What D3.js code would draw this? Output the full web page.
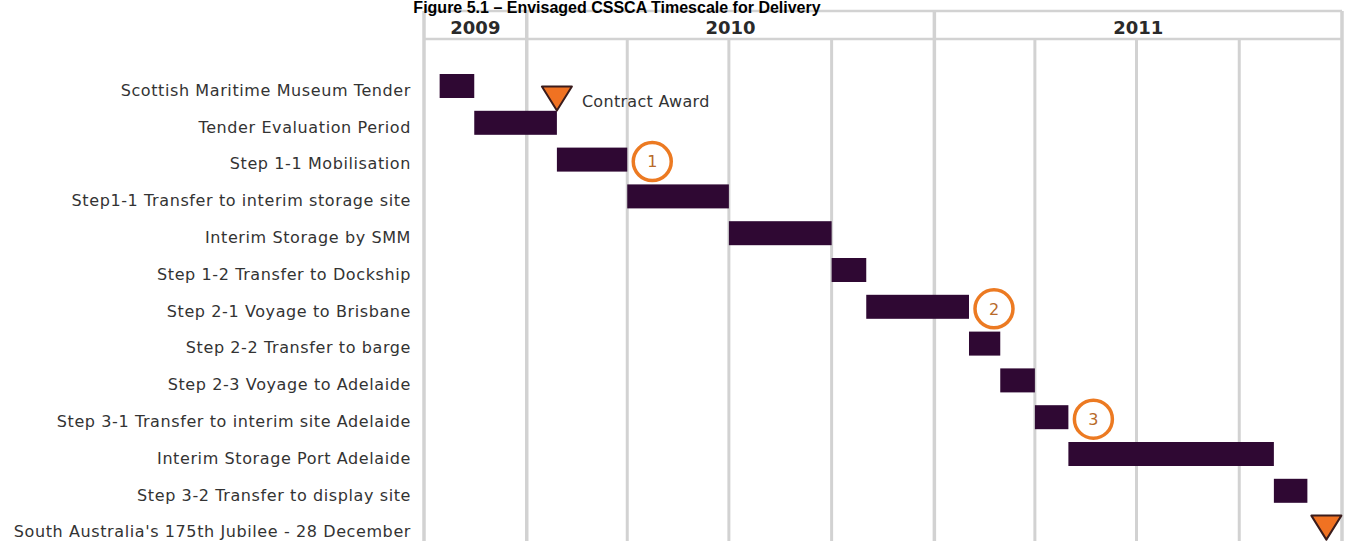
<!DOCTYPE html>
<html>
<head>
<meta charset="utf-8">
<script src="https://cdn.jsdelivr.net/npm/d3@7"></script>
<style>
  body { margin: 0; background: #fff; }
  svg { display: block; }
</style>
</head>
<body>
<div id="chart"></div>
<script>
var tasks = [
    "Scottish Maritime Museum Tender",
    "Tender Evaluation Period",
    "Step 1-1 Mobilisation",
    "Step1-1 Transfer to interim storage site",
    "Interim Storage by SMM",
    "Step 1-2 Transfer to Dockship",
    "Step 2-1 Voyage to Brisbane",
    "Step 2-2 Transfer to barge",
    "Step 2-3 Voyage to Adelaide",
    "Step 3-1 Transfer to interim site Adelaide",
    "Interim Storage Port Adelaide",
    "Step 3-2 Transfer to display site",
    "South Australia's 175th Jubilee - 28 December"
];
var starts = ["2009-10-15", "2009-11-15", "2010-01-28", "2010-04-01", "2010-07-01", "2010-10-01",
              "2010-11-01", "2011-02-01", "2011-03-01", "2011-04-01", "2011-05-01", "2011-11-01", null];
var ends   = ["2009-11-15", "2010-01-28", "2010-04-01", "2010-07-01", "2010-10-01", "2010-11-01",
              "2011-02-01", "2011-03-01", "2011-04-01", "2011-05-01", "2011-11-01", "2011-12-01", null];

// milestones (triangles)
var milestoneDates = ["2010-01-28", "2011-12-18"];
var milestoneRows = [0.34, 12];
var milestoneLabels = ["Contract Award", ""];

// numbered step circles, placed after the bar of that row
var stepRows = [2, 6, 9];
var stepLabels = ["1", "2", "3"];

var years = ["2009", "2010", "2011"];
var yearStarts = ["2009-10-01", "2010-01-01", "2011-01-01"];
var yearEnds = ["2010-01-01", "2011-01-01", "2012-01-01"];

var title = "Figure 5.1 \u2013 Envisaged CSSCA Timescale for Delivery";

function init() {
    var w = 1349;
    var h = 541;
    var parse = d3.timeParse("%Y-%m-%d");

    var svg = d3.select("#chart")
        .append("svg")
        .attr("width", w)
        .attr("height", h);

    var x = d3.scaleTime()
        .domain([parse("2009-10-01"), parse("2012-01-01")])
        .range([424, 1342]);

    var y = d3.scaleLinear()
        .domain([0, tasks.length - 1])
        .range([86, 527.6]);

    var gridColor = "#d2d2d2";
    var headTop = 11, headBottom = 39;

    // quarter lines, only below header
    var quarters = d3.timeMonth.every(3).range(parse("2010-01-01"), parse("2012-01-01"))
        .filter(function(d) { return d.getMonth() != 0; });
    svg.selectAll("line.q")
        .data(quarters)
        .enter()
        .append("line")
        .attr("class", "q")
        .attr("x1", function(d) { return x(d); })
        .attr("x2", function(d) { return x(d); })
        .attr("y1", headBottom)
        .attr("y2", h)
        .attr("stroke", gridColor)
        .attr("stroke-width", 3);

    // year boundaries go through the header
    var yearLines = [parse(yearStarts[0])].concat(yearEnds.map(parse));
    svg.selectAll("line.y")
        .data(yearLines)
        .enter()
        .append("line")
        .attr("class", "y")
        .attr("x1", function(d) { return x(d); })
        .attr("x2", function(d) { return x(d); })
        .attr("y1", headTop)
        .attr("y2", h)
        .attr("stroke", gridColor)
        .attr("stroke-width", 3.5);

    [headTop, headBottom].forEach(function(yy) {
        svg.append("line")
            .attr("x1", x.range()[0])
            .attr("x2", x.range()[1])
            .attr("y1", yy)
            .attr("y2", yy)
            .attr("stroke", gridColor)
            .attr("stroke-width", 2.5);
    });

    // title
    svg.append("text")
        .attr("x", 617)
        .attr("y", 13)
        .attr("text-anchor", "middle")
        .attr("font-family", "Liberation Sans, Arial, sans-serif")
        .attr("font-weight", "bold")
        .attr("font-size", 16)
        .attr("fill", "#000")
        .text(title);

    svg.selectAll("text.year")
        .data(years)
        .enter()
        .append("text")
        .attr("class", "year")
        .attr("x", function(d, i) { return (x(parse(yearStarts[i])) + x(parse(yearEnds[i]))) / 2; })
        .attr("y", 34)
        .attr("text-anchor", "middle")
        .attr("font-family", "DejaVu Sans, sans-serif")
        .attr("font-weight", "bold")
        .attr("font-size", 18)
        .attr("fill", "#2a2a2a")
        .text(function(d) { return d; });

    // task labels
    svg.selectAll("text.task")
        .data(tasks)
        .enter()
        .append("text")
        .attr("class", "task")
        .attr("x", 411)
        .attr("y", function(d, i) { return y(i) + 4; })
        .attr("dy", "0.36em")
        .attr("text-anchor", "end")
        .attr("font-family", "DejaVu Sans, sans-serif")
        .attr("font-size", 16)
        .attr("letter-spacing", 0.6)
        .attr("fill", "#333")
        .text(function(d) { return d; });

    // bars
    var barH = 24;
    var bars = tasks.map(function(t, i) { return {row: i, start: starts[i], end: ends[i]}; })
        .filter(function(d) { return d.start; });
    svg.selectAll("rect.bar")
        .data(bars)
        .enter()
        .append("rect")
        .attr("class", "bar")
        .attr("x", function(d) { return x(parse(d.start)); })
        .attr("width", function(d) { return x(parse(d.end)) - x(parse(d.start)); })
        .attr("y", function(d) { return y(d.row) - barH / 2; })
        .attr("height", barH)
        .attr("fill", "#2f0833");

    // step circles
    var steps = stepRows.map(function(r, i) { return {row: r, label: stepLabels[i]}; });
    var sg = svg.selectAll("g.step")
        .data(steps)
        .enter()
        .append("g")
        .attr("class", "step")
        .attr("transform", function(d) {
            return "translate(" + (x(parse(ends[d.row])) + 25) + "," + (y(d.row) + 2) + ")";
        });
    sg.append("circle")
        .attr("r", 19)
        .attr("fill", "#fff")
        .attr("stroke", "#ec7a22")
        .attr("stroke-width", 3.5);
    sg.append("text")
        .attr("dy", "0.36em")
        .attr("text-anchor", "middle")
        .attr("font-family", "DejaVu Sans, sans-serif")
        .attr("font-size", 16)
        .attr("fill", "#b86a2a")
        .text(function(d) { return d.label; });

    // milestones
    var tw = 30, th = 24;
    var ms = milestoneDates.map(function(d, i) { return {date: d, row: milestoneRows[i], label: milestoneLabels[i]}; });
    var mg = svg.selectAll("g.ms")
        .data(ms)
        .enter()
        .append("g")
        .attr("class", "ms")
        .attr("transform", function(d) { return "translate(" + x(parse(d.date)) + "," + y(d.row) + ")"; });
    mg.append("path")
        .attr("d", "M" + (-tw / 2) + "," + (-th / 2) + "L" + (tw / 2) + "," + (-th / 2) + "L0," + (th / 2) + "Z")
        .attr("fill", "#f07222")
        .attr("stroke", "#3b1c1c")
        .attr("stroke-width", 2)
        .attr("stroke-linejoin", "round");
    mg.append("text")
        .attr("x", 25)
        .attr("y", 3)
        .attr("dy", "0.36em")
        .attr("font-family", "DejaVu Sans, sans-serif")
        .attr("font-size", 16)
        .attr("letter-spacing", 0.3)
        .attr("fill", "#333")
        .text(function(d) { return d.label; });
}
window.onload = init;
</script>
</body>
</html>
